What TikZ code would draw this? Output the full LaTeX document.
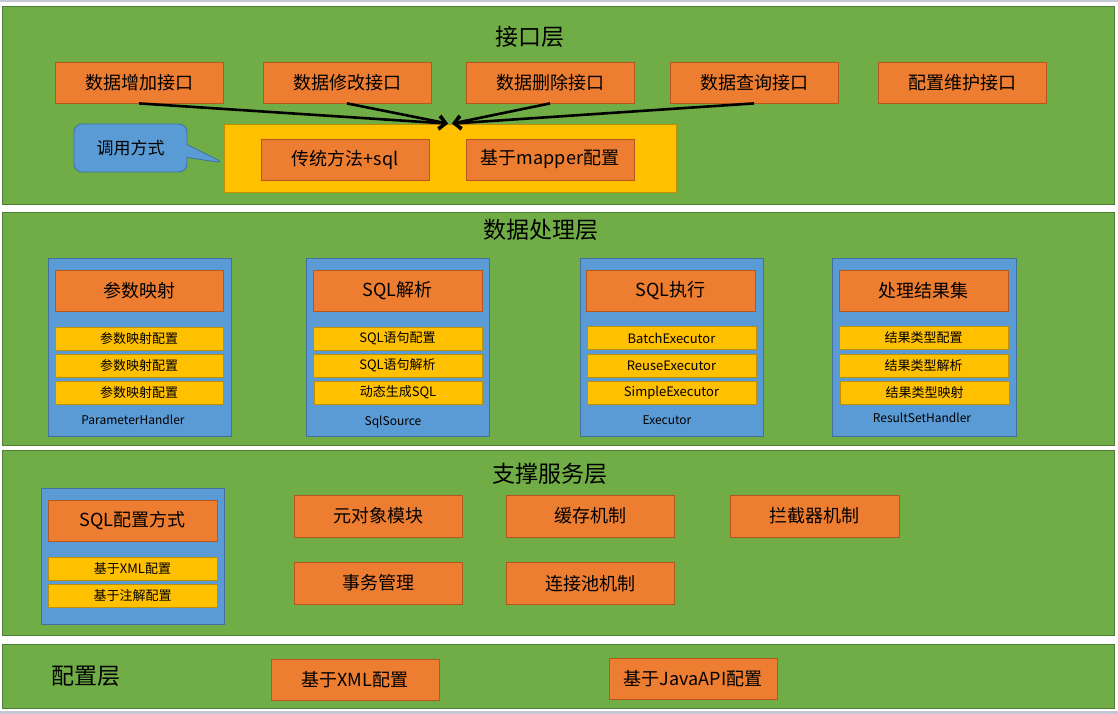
\documentclass[tikz,border=0pt]{standalone}
\usepackage{fontspec}
\setmainfont{Noto Sans CJK SC}
\usetikzlibrary{arrows.meta,shapes.callouts}
\definecolor{lgreen}{HTML}{70AD47}
\definecolor{lgreenb}{HTML}{507E32}
\definecolor{orng}{HTML}{ED7D31}
\definecolor{orngb}{HTML}{B5581F}
\definecolor{yel}{HTML}{FFC000}
\definecolor{yelb}{HTML}{BF9000}
\definecolor{blu}{HTML}{5B9BD5}
\definecolor{blub}{HTML}{41719C}
\definecolor{edgegray}{HTML}{C5C8D3}
\begin{document}
\begin{tikzpicture}[x=1pt,y=-1pt,
  layer/.style={draw=lgreenb, fill=lgreen, line width=0.8pt, minimum width=1112pt, inner sep=0pt},
  obox/.style={draw=orngb, fill=orng, line width=0.8pt, minimum width=168pt, minimum height=41pt, inner sep=0pt, font=\fontsize{18pt}{20pt}\selectfont},
  ybox/.style={draw=yelb, fill=yel, line width=0.8pt, minimum width=168pt, minimum height=23pt, inner sep=0pt, font=\fontsize{13pt}{15pt}\selectfont},
  bbox/.style={draw=blub, fill=blu, line width=0.8pt, minimum width=183pt, inner sep=0pt},
  ltitle/.style={font=\fontsize{23pt}{26pt}\selectfont, inner sep=0pt},
  lbl/.style={font=\fontsize{12pt}{14pt}\selectfont, inner sep=0pt},
  arr/.style={line width=2.6pt, -{Straight Barb[length=7pt,width=13pt]}}
]
\useasboundingbox (0,0) rectangle (1118,714);
\fill[white] (0,0) rectangle (1118,714);
\fill[edgegray] (0,0) rectangle (1118,2);
\fill[edgegray] (0,711) rectangle (1118,714);

% layers
\node[layer, minimum height=198pt] (L1) at (558,105) {};
\node[layer, minimum height=233pt] (L2) at (558,328.5) {};
\node[layer, minimum height=185pt] (L3) at (558,542.5) {};
\node[layer, minimum height=64pt] (L4) at (558,676) {};

% interface layer
\node[ltitle] (t1) at (530,37) {接口层};
\node[obox] (a1) at (139,82.5) {数据增加接口};
\node[obox] (a2) at (347,82.5) {数据修改接口};
\node[obox] (a3) at (550,82.5) {数据删除接口};
\node[obox] (a4) at (754,82.5) {数据查询接口};
\node[obox] (a5) at (962,82.5) {配置维护接口};
\node[draw=yelb, fill=yel, line width=0.8pt, minimum width=452pt, minimum height=68pt, inner sep=0pt] (yc) at (450,158) {};
\node[obox] (b1) at (345,159.5) {传统方法+sql};
\node[obox] (b2) at (550,159.5) {基于mapper配置};
\node[rectangle callout, draw=blub, fill=blu, line width=0.8pt, rounded corners=8pt,
  minimum width=113pt, minimum height=48pt, inner sep=0pt, callout pointer width=13pt,
  callout absolute pointer={(224,163)}, font=\fontsize{17pt}{19pt}\selectfont] (co) at (130.5,148) {调用方式};
\coordinate (tipL) at ([xshift=-2pt]yc.north);
\coordinate (tipR) at ([xshift=2pt]yc.north);
\draw[arr] (a1.south) -- (tipL);
\draw[arr] (a2.south) -- (tipL);
\draw[arr] (a3.south) -- (tipR);
\draw[arr] (a4.south) -- (tipR);

% data processing layer
\node[ltitle] (t2) at (541,230) {数据处理层};
\node[bbox, minimum height=178pt] (P) at (140,347) {};
\node[obox] (Ph) at (139,291) {参数映射};
\node[ybox] (P1) at (139,338.5) {参数映射配置};
\node[ybox] (P2) at (139,365.5) {参数映射配置};
\node[ybox] (P3) at (139,392.5) {参数映射配置};
\node[lbl] (Pl) at (133,420) {ParameterHandler};

\node[bbox, minimum height=178pt] (S) at (397.5,347) {};
\node[obox, minimum width=169pt] (Sh) at (397.5,291) {SQL解析};
\node[ybox, minimum width=169pt] (S1) at (397.5,338.5) {SQL语句配置};
\node[ybox, minimum width=169pt] (S2) at (397.5,365.5) {SQL语句解析};
\node[ybox, minimum width=168pt] (S3) at (398,392.5) {动态生成SQL};
\node[lbl] (Sl) at (393,422) {SqlSource};

\node[bbox, minimum height=178pt] (E) at (671.5,347) {};
\node[obox, minimum width=169pt] (Eh) at (670.5,291) {SQL执行};
\node[ybox, minimum width=169pt] (E1) at (671.5,338) {BatchExecutor};
\node[ybox, minimum width=169pt] (E2) at (671.5,365.5) {ReuseExecutor};
\node[ybox, minimum width=169pt] (E3) at (671.5,392.5) {SimpleExecutor};
\node[lbl] (El) at (667,420) {Executor};

\node[bbox, minimum height=178pt, minimum width=184pt] (R) at (924,347) {};
\node[obox, minimum width=169pt] (Rh) at (923.5,291) {处理结果集};
\node[ybox, minimum width=169pt] (R1) at (923.5,338) {结果类型配置};
\node[ybox, minimum width=169pt] (R2) at (923.5,365.5) {结果类型解析};
\node[ybox, minimum width=169pt] (R3) at (924.5,392.5) {结果类型映射};
\node[lbl] (Rl) at (922,418) {ResultSetHandler};

% support services layer
\node[ltitle] (t3) at (550,474) {支撑服务层};
\node[bbox, minimum height=136pt] (Q) at (133,556) {};
\node[obox, minimum width=169pt] (Qh) at (132.5,520.5) {SQL配置方式};
\node[ybox, minimum width=169pt] (Q1) at (132.5,568.5) {基于XML配置};
\node[ybox, minimum width=169pt] (Q2) at (132.5,595.5) {基于注解配置};
\node[obox, minimum height=42pt] (c1) at (378,516) {元对象模块};
\node[obox, minimum height=42pt] (c2) at (378,583) {事务管理};
\node[obox, minimum height=42pt] (c3) at (590,516) {缓存机制};
\node[obox, minimum height=42pt] (c4) at (590,583.5) {连接池机制};
\node[obox, minimum height=42pt, minimum width=169pt] (c5) at (814.5,516) {拦截器机制};

% configuration layer
\node[ltitle] (t4) at (86,676) {配置层};
\node[obox] (d1) at (355,679.5) {基于XML配置};
\node[obox] (d2) at (693,678.5) {基于JavaAPI配置};
\end{tikzpicture}
\end{document}
